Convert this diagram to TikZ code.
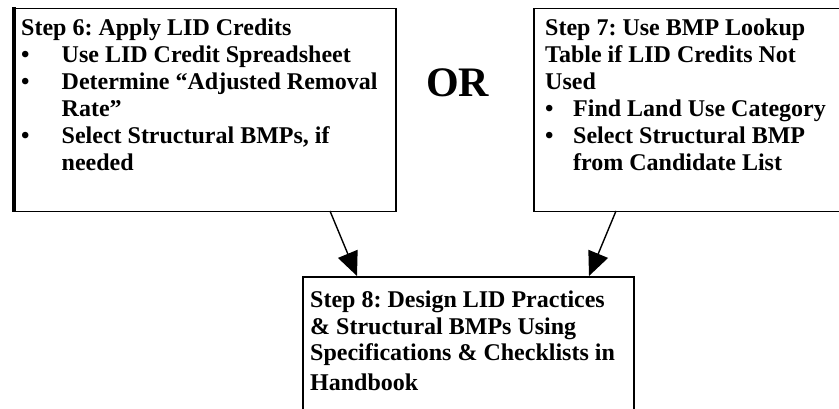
\documentclass[tikz,border=0pt]{standalone}
\usepackage{fontspec}
\setmainfont{Liberation Serif}
\usetikzlibrary{arrows.meta}
\newcommand\bulcol[1]{\makebox[#1][l]{\textbullet}}
\frenchspacing
\begin{document}
\begin{tikzpicture}[x=1pt,y=-1pt,
  boxst/.style={draw=black, line width=1.5pt, fill=white, inner sep=0pt, anchor=north west},
  txt/.style={anchor=base west, inner sep=0pt, font=\bfseries\fontsize{24}{27}\selectfont},
  conn/.style={line width=1.4pt, -{Triangle[length=24pt,width=21pt]}}]
\useasboundingbox (0,0) rectangle (839,409);
\clip (0,0) rectangle (839,409);
% boxes
\node[boxst, minimum width=381pt, minimum height=203pt] (b1) at (14,8) {};
\draw[line width=3.5pt] (b1.north west) ++(0,-0.5) -- (b1.south west);
\node[boxst, minimum width=340pt, minimum height=203pt] (b2) at (533,8) {};
\node[boxst, minimum width=331pt, minimum height=170pt] (b3) at (302,276) {};
% texts
\node[txt] (t1) at (21,36) {\begin{minipage}[t]{372pt}\raggedright\frenchspacing
Step 6: Apply LID Credits\\
\bulcol{40.5pt}Use LID Credit Spreadsheet\\
\bulcol{40.5pt}Determine “Adjusted Removal\\
\hspace*{40.5pt}Rate”\\
\bulcol{40.5pt}Select Structural BMPs, if\\
\hspace*{40.5pt}needed
\end{minipage}};
\node[txt] (t2) at (545,36) {\begin{minipage}[t]{300pt}\raggedright\frenchspacing
Step 7: Use BMP Lookup\\
Table if LID Credits Not\\
Used\\
\bulcol{28pt}Find Land Use Category\\
\bulcol{28pt}Select Structural BMP\\
\hspace*{28pt}from Candidate List
\end{minipage}};
\node[txt] (t3) at (310,307) {\begin{minipage}[t]{322pt}\raggedright\frenchspacing
Step 8: Design LID Practices\\
\& Structural BMPs Using\\
Specifications \& Checklists in\\[3pt]
Handbook
\end{minipage}};
\node[anchor=base, inner sep=0pt, font=\bfseries\fontsize{42}{46}\selectfont] (or) at (457.5,97) {OR};
% connectors
\coordinate (s1) at (330,211);
\coordinate (e1) at (357,276);
\coordinate (s2) at (616,211);
\coordinate (e2) at (589,276);
\draw[conn] (s1) -- (e1);
\draw[conn] (s2) -- (e2);
\end{tikzpicture}
\end{document}
